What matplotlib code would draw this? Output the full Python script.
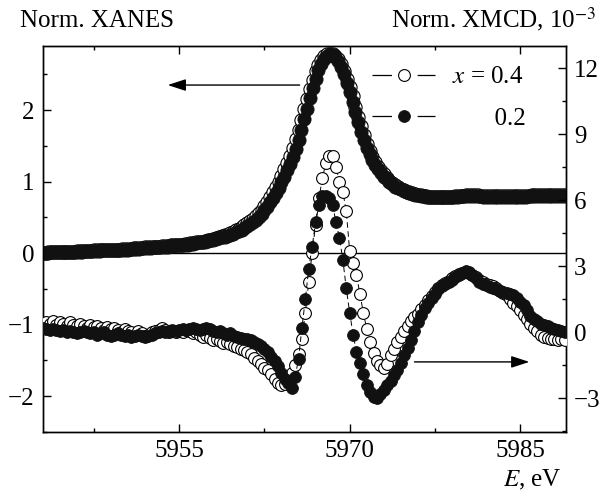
import numpy as np
import matplotlib
matplotlib.use("Agg")
import matplotlib.pyplot as plt
from matplotlib.lines import Line2D
from matplotlib.ticker import MultipleLocator

plt.rcParams['font.family'] = ['Liberation Serif', 'DejaVu Serif']
plt.rcParams['mathtext.fontset'] = 'stix'
plt.rcParams['lines.scale_dashes'] = False

# ---------------- data ----------------
# XANES: energy grid start / step (eV)
xanes_E0 = 5943.0
xanes_dE = 0.25
# normalized XANES, x = 0.2 (filled)
xanes_02 = [
    0.00, 0.00, 0.00, 0.01, 0.01, 0.01, 0.01, 0.01,
    0.01, 0.02, 0.02, 0.02, 0.02, 0.02, 0.02, 0.03,
    0.03, 0.03, 0.03, 0.03, 0.03, 0.04, 0.04, 0.04,
    0.04, 0.04, 0.05, 0.05, 0.05, 0.05, 0.05, 0.06,
    0.06, 0.06, 0.06, 0.07, 0.07, 0.07, 0.07, 0.08,
    0.08, 0.08, 0.09, 0.09, 0.09, 0.10, 0.10, 0.11,
    0.11, 0.11, 0.12, 0.12, 0.13, 0.13, 0.14, 0.15,
    0.15, 0.16, 0.17, 0.18, 0.19, 0.20, 0.21, 0.22,
    0.23, 0.24, 0.26, 0.27, 0.29, 0.31, 0.33, 0.35,
    0.38, 0.41, 0.44, 0.47, 0.51, 0.55, 0.60, 0.65,
    0.71, 0.77, 0.84, 0.91, 0.99, 1.07, 1.16, 1.25,
    1.35, 1.46, 1.58, 1.72, 1.87, 2.02, 2.17, 2.31,
    2.44, 2.56, 2.65, 2.72, 2.76, 2.78, 2.77, 2.74,
    2.68, 2.60, 2.50, 2.38, 2.25, 2.11, 1.97, 1.83,
    1.70, 1.58, 1.47, 1.38, 1.30, 1.23, 1.17, 1.12,
    1.07, 1.03, 0.99, 0.96, 0.93, 0.91, 0.89, 0.87,
    0.86, 0.84, 0.83, 0.82, 0.81, 0.80, 0.80, 0.79,
    0.79, 0.79, 0.78, 0.78, 0.78, 0.78, 0.78, 0.79,
    0.79, 0.79, 0.79, 0.80, 0.80, 0.80, 0.80, 0.80,
    0.80, 0.80, 0.80, 0.79, 0.79, 0.79, 0.79, 0.79,
    0.79, 0.79, 0.79, 0.79, 0.79, 0.79, 0.79, 0.79,
    0.79, 0.79, 0.79, 0.80, 0.80, 0.80, 0.80, 0.80,
    0.80, 0.80, 0.80, 0.80, 0.80, 0.80, 0.80, 0.80,
    0.80,
]
# normalized XANES, x = 0.4 (open)
xanes_04 = [
    0.00, 0.00, 0.01, 0.01, 0.01, 0.01, 0.01, 0.02,
    0.02, 0.02, 0.02, 0.02, 0.03, 0.03, 0.03, 0.03,
    0.03, 0.03, 0.04, 0.04, 0.04, 0.04, 0.04, 0.05,
    0.05, 0.05, 0.05, 0.05, 0.06, 0.06, 0.06, 0.06,
    0.07, 0.07, 0.07, 0.07, 0.08, 0.08, 0.08, 0.09,
    0.09, 0.09, 0.10, 0.10, 0.10, 0.11, 0.11, 0.12,
    0.12, 0.12, 0.13, 0.13, 0.14, 0.14, 0.15, 0.16,
    0.16, 0.17, 0.18, 0.19, 0.20, 0.21, 0.22, 0.24,
    0.25, 0.26, 0.28, 0.30, 0.32, 0.34, 0.36, 0.39,
    0.42, 0.45, 0.48, 0.52, 0.56, 0.61, 0.66, 0.72,
    0.78, 0.85, 0.92, 1.00, 1.08, 1.17, 1.26, 1.36,
    1.47, 1.59, 1.72, 1.86, 2.01, 2.15, 2.29, 2.42,
    2.54, 2.63, 2.70, 2.75, 2.78, 2.79, 2.78, 2.76,
    2.71, 2.64, 2.55, 2.44, 2.32, 2.19, 2.05, 1.91,
    1.78, 1.65, 1.53, 1.43, 1.35, 1.27, 1.21, 1.15,
    1.10, 1.05, 1.01, 0.98, 0.95, 0.92, 0.90, 0.88,
    0.86, 0.85, 0.84, 0.83, 0.82, 0.81, 0.80, 0.80,
    0.79, 0.79, 0.79, 0.79, 0.78, 0.78, 0.79, 0.79,
    0.79, 0.80, 0.80, 0.80, 0.80, 0.81, 0.81, 0.81,
    0.81, 0.81, 0.80, 0.80, 0.80, 0.80, 0.80, 0.80,
    0.80, 0.80, 0.80, 0.80, 0.80, 0.80, 0.80, 0.80,
    0.80, 0.80, 0.80, 0.80, 0.81, 0.81, 0.81, 0.81,
    0.81, 0.81, 0.81, 0.81, 0.81, 0.81, 0.81, 0.81,
    0.81,
]

# XMCD: energy grid start / step (eV), values in units of 1e-3
xmcd_E0 = 5943.0
xmcd_dE = 0.3
xmcd_02 = [
    0.20, 0.15, 0.10, 0.15, 0.10, 0.05, 0.10, 0.00, 0.05, 0.00,
    -0.05, 0.00, 0.05, 0.00, -0.05, 0.00, -0.10, -0.05, 0.00, -0.10,
    -0.15, -0.10, -0.05, -0.10, -0.15, -0.10, -0.20, -0.15, -0.10, -0.15,
    -0.20, -0.15, -0.10, -0.05, 0.00, 0.05, 0.00, 0.05, 0.10, 0.05,
    0.10, 0.15, 0.10, 0.15, 0.20, 0.15, 0.10, 0.15, 0.20, 0.15,
    0.05, 0.00, 0.05, -0.05, -0.10, -0.05, -0.15, -0.20, -0.25, -0.30,
    -0.30, -0.35, -0.45, -0.55, -0.60, -0.75, -0.90, -1.10, -1.30, -1.55,
    -1.85, -2.10, -2.30, -2.55, -2.05, -1.20, 0.20, 1.50, 2.90, 3.90,
    5.00, 5.80, 6.20, 6.20, 6.10, 5.80, 5.00, 4.30, 3.30, 2.00,
    0.90, -0.10, -0.90, -1.40, -1.90, -2.40, -2.70, -2.95, -3.00, -2.80,
    -2.60, -2.40, -2.20, -1.95, -1.70, -1.40, -1.05, -0.70, -0.35, 0.05,
    0.45, 0.80, 1.10, 1.35, 1.55, 1.75, 1.95, 2.10, 2.20, 2.30,
    2.40, 2.50, 2.60, 2.70, 2.80, 2.75, 2.60, 2.45, 2.30, 2.20,
    2.15, 2.05, 2.00, 1.95, 1.90, 1.85, 1.80, 1.75, 1.70, 1.55,
    1.40, 1.25, 1.00, 0.75, 0.60, 0.50, 0.40, 0.35, 0.30, 0.20,
    0.15, 0.10, 0.05, 0.00,
]
xmcd_04 = [
    0.30, 0.45, 0.40, 0.50, 0.35, 0.45, 0.40, 0.30, 0.45, 0.35,
    0.30, 0.40, 0.30, 0.20, 0.35, 0.25, 0.30, 0.20, 0.10, 0.25,
    0.15, 0.20, 0.10, 0.00, 0.15, 0.05, 0.00, -0.10, 0.05, -0.05,
    -0.15, -0.10, 0.00, 0.05, 0.10, 0.20, 0.10, 0.00, 0.05, 0.00,
    0.05, 0.00, 0.10, 0.05, -0.05, 0.00, -0.10, -0.20, -0.10, -0.25,
    -0.35, -0.30, -0.40, -0.50, -0.45, -0.55, -0.60, -0.65, -0.75, -0.80,
    -0.90, -1.00, -1.15, -1.30, -1.45, -1.60, -1.70, -1.90, -2.10, -2.30,
    -2.40, -2.35, -2.10, -1.85, -1.50, -1.00, -0.30, 0.90, 2.30, 3.60,
    4.90, 6.10, 7.00, 7.70, 8.00, 8.00, 7.50, 6.85, 6.40, 5.50,
    3.70, 3.15, 2.60, 1.75, 0.90, 0.15, -0.45, -0.95, -1.30, -1.50,
    -1.60, -1.45, -1.05, -0.75, -0.45, -0.20, 0.05, 0.30, 0.50, 0.70,
    0.85, 1.05, 1.25, 1.45, 1.65, 1.85, 2.00, 2.15, 2.25, 2.35,
    2.45, 2.55, 2.65, 2.70, 2.75, 2.70, 2.60, 2.50, 2.40, 2.30,
    2.20, 2.15, 2.10, 2.00, 1.90, 1.80, 1.70, 1.50, 1.35, 1.20,
    1.00, 0.80, 0.60, 0.40, 0.20, 0.05, -0.10, -0.20, -0.25, -0.30,
    -0.30, -0.35, -0.30, -0.35,
]

legend_labels = ["$x$ = 0.4", "\u2007\u2007\u2007\u20090.2"]
xticks = [5955, 5970, 5985]

E_xanes = xanes_E0 + xanes_dE * np.arange(len(xanes_02))
E_xmcd = xmcd_E0 + xmcd_dE * np.arange(len(xmcd_02))

# ---------------- figure ----------------
fig = plt.figure(figsize=(6.02, 4.93), dpi=100)
ax = fig.add_axes([0.0709, 0.1237, 0.9397 - 0.0709, 0.9073 - 0.1237])
ax2 = ax.twinx()

FS = 18
ms_x = 9.5
ms_m = 8.5

ax.axhline(0, color='k', lw=1.0, zorder=1)

ax.plot(E_xanes, xanes_04, ls='none', marker='o', ms=ms_x, mfc='white',
        mec='k', mew=0.8, zorder=3)
ax.plot(E_xanes, xanes_02, ls='none', marker='o', ms=ms_x, mfc='#111111',
        mec='#111111', mew=0.6, zorder=4)

ax2.plot(E_xmcd, xmcd_04, ls=(0, (4, 2.5)), lw=0.7, color='k',
         marker='o', ms=ms_m, mfc='white', mec='k', mew=0.8, zorder=3)
ax2.plot(E_xmcd, xmcd_02, ls=(0, (4, 2.5)), lw=0.7, color='k',
         marker='o', ms=ms_m, mfc='#111111', mec='#111111', mew=0.6, zorder=4)

ax.set_xlim(5943, 5989)
ax.set_ylim(-2.5, 2.9)
ax2.set_ylim(-4.53, 13.03)

ax.xaxis.set_major_locator(MultipleLocator(15))
ax.xaxis.set_minor_locator(MultipleLocator(7.5))
ax.set_xticks(xticks)
ax.yaxis.set_major_locator(MultipleLocator(1))
ax.yaxis.set_minor_locator(MultipleLocator(0.5))
ax2.yaxis.set_major_locator(MultipleLocator(3))
ax2.yaxis.set_minor_locator(MultipleLocator(1.5))

for a in (ax, ax2):
    for s in a.spines.values():
        s.set_linewidth(1.0)
ax.tick_params(axis='x', which='both', direction='in', top=True,
               labelsize=FS, pad=6)
ax.tick_params(axis='x', which='major', length=6, width=1)
ax.tick_params(axis='x', which='minor', length=3, width=1)
ax.tick_params(axis='y', which='both', direction='in', right=False,
               labelsize=FS, pad=6)
ax.tick_params(axis='y', which='major', length=6, width=1)
ax.tick_params(axis='y', which='minor', length=3, width=1)
ax2.tick_params(axis='y', which='both', direction='in', labelsize=FS, pad=6)
ax2.tick_params(axis='y', which='major', length=6, width=1)
ax2.tick_params(axis='y', which='minor', length=3, width=1)

# arrows
arrow_kw = dict(arrowstyle='-|>,head_length=0.55,head_width=0.18',
                lw=1.0, color='k', mutation_scale=20, shrinkA=0, shrinkB=0)
ax.annotate('', xy=(5954.0, 2.35), xytext=(5965.6, 2.35), arrowprops=arrow_kw,
            zorder=6)
ax.annotate('', xy=(5985.8, -1.52), xytext=(5975.7, -1.52), arrowprops=arrow_kw,
            zorder=6)

# legend
handles = [
    Line2D([], [], color='k', lw=0.9, ls=(0, (14, 18.5, 13, 60)), marker='o',
           ms=ms_m, mfc='white', mec='k', mew=0.8),
    Line2D([], [], color='k', lw=0.9, ls=(0, (14, 18.5, 13, 60)), marker='o',
           ms=ms_m, mfc='#111111', mec='#111111', mew=0.6),
]
leg = ax2.legend(handles, legend_labels, loc='upper left',
                 bbox_to_anchor=(0.63, 0.948), frameon=False, fontsize=FS,
                 handlelength=2.52, handletextpad=0.66, labelspacing=0.75,
                 borderpad=0, borderaxespad=0, numpoints=1)
leg.set_zorder(10)

# axis titles
fig.text(20 / 602, 1 - 27 / 493, "Norm. XANES", fontsize=FS, ha='left',
         va='baseline')
fig.text(596 / 602, 1 - 27 / 493, "Norm. XMCD, 10$^{-3}$", fontsize=FS,
         ha='right', va='baseline')
fig.text(562 / 602, 1 - 486 / 493, "$E$, eV", fontsize=FS, ha='right',
         va='baseline')

fig.savefig("out.png", dpi=100)
